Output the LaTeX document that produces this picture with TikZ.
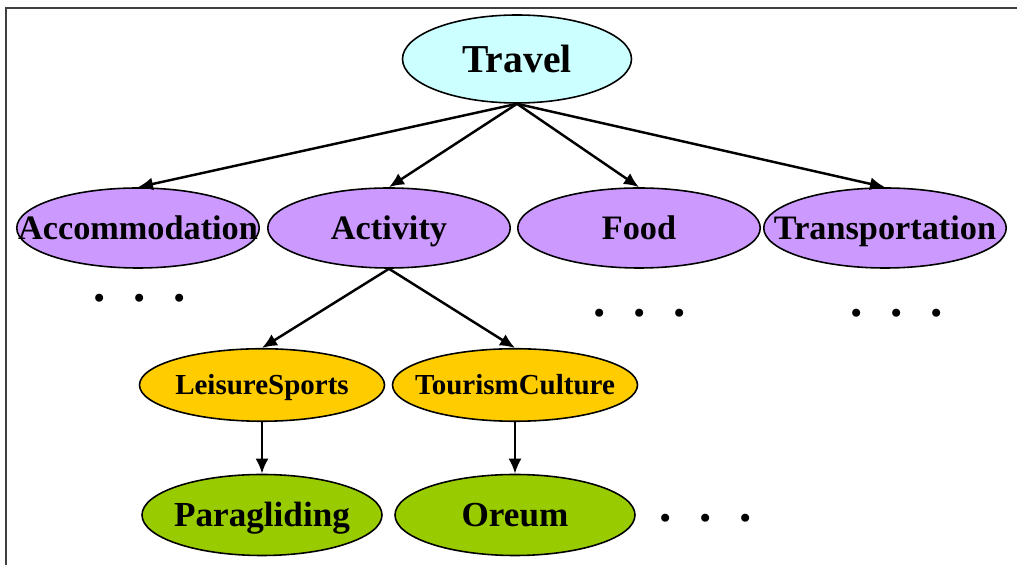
\documentclass[tikz,border=0pt]{standalone}
\usepackage{fontspec}
\setmainfont{Liberation Serif}
\usetikzlibrary{shapes.geometric,arrows.meta}

\definecolor{travelcyan}{RGB}{204,255,255}
\definecolor{catpurple}{RGB}{204,153,255}
\definecolor{subyellow}{RGB}{255,204,0}
\definecolor{leafgreen}{RGB}{153,204,0}

\newcommand{\ctext}[1]{\makebox[0pt]{#1}}

\begin{document}
\begin{tikzpicture}[
  every node/.style={font=\bfseries},
  concept/.style={ellipse, draw=black, line width=0.9pt, inner sep=0pt, text depth=0pt},
  root/.style={concept, fill=travelcyan, minimum width=4.58cm, minimum height=1.76cm, text height=14.9pt, font=\bfseries\fontsize{22.5}{24}\selectfont},
  cat/.style={concept, fill=catpurple, minimum width=4.85cm, minimum height=1.6cm, text height=12.9pt, font=\bfseries\fontsize{19.5}{22}\selectfont},
  sub/.style={concept, fill=subyellow, minimum width=4.9cm, minimum height=1.45cm, text height=10.9pt, font=\bfseries\fontsize{16.5}{18}\selectfont},
  leaf/.style={concept, fill=leafgreen, minimum width=4.8cm, minimum height=1.62cm, text height=13.2pt, font=\bfseries\fontsize{20}{22}\selectfont},
  more/.style={font=\bfseries\fontsize{28}{30}\selectfont, inner sep=0pt},
  link/.style={-{Latex[length=3mm,width=2.6mm]}, line width=1.4pt},
]
\useasboundingbox (0,0) rectangle (20.34,-11.3);
% frame
\draw[line width=1.2pt, black!75] (0.12,-0.16) rectangle (20.6,-11.6);
% top level
\node[root] (travel) at (10.34,-1.18) {\ctext{Travel}};
% categories
\node[cat] (acc) at (2.76,-4.56) {\ctext{Accommodation}};
\node[cat] (act) at (7.78,-4.56) {\ctext{Activity}};
\node[cat] (food) at (12.78,-4.56) {\ctext{Food}};
\node[cat] (trans) at (17.70,-4.56) {\ctext{Transportation}};
% sub categories
\node[sub] (leis) at (5.24,-7.7) {\ctext{LeisureSports}};
\node[sub] (tour) at (10.3,-7.7) {\ctext{TourismCulture}};
% instances
\node[leaf] (para) at (5.24,-10.3) {\ctext{Paragliding}};
\node[leaf] (oreum) at (10.3,-10.3) {\ctext{Oreum}};
% dots
\foreach \nm/\x/\y in {accmore/2.8/-5.96, foodmore/12.8/-6.26, transmore/17.94/-6.26, leafmore/14.12/-10.36} {
  \node[more] (\nm) at (\x,\y) {.\hspace{15.7pt}.\hspace{15.7pt}.};
}
% links
\foreach \t in {acc, act, food, trans} {
  \draw[link] (travel.south) -- (\t.north);
}
\draw[link] (act.south) -- (leis.north);
\draw[link] (act.south) -- (tour.north);
\draw[link] (leis.south) -- (para.north);
\draw[link] (tour.south) -- (oreum.north);
\end{tikzpicture}
\end{document}
